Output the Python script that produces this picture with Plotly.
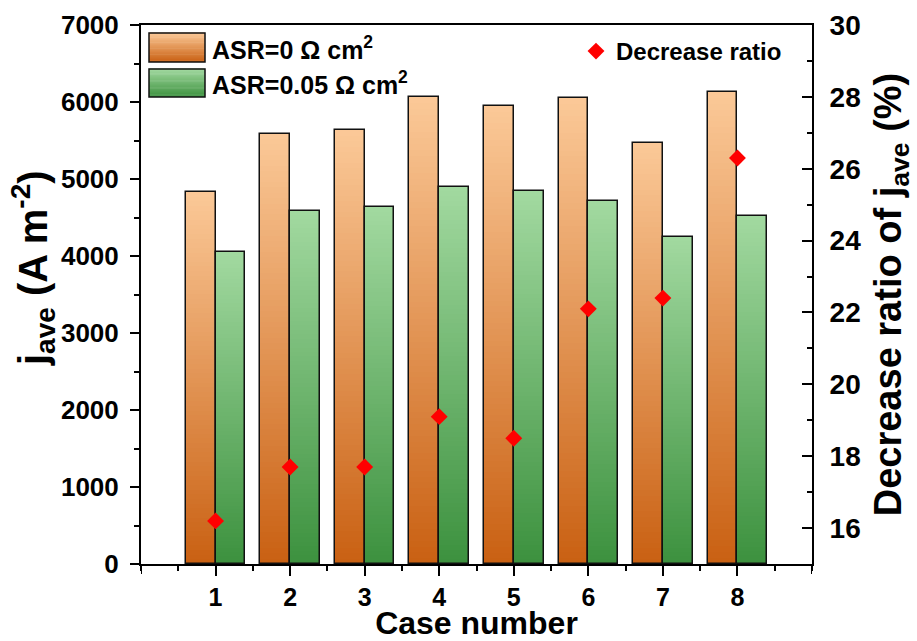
import plotly.graph_objects as go

cases = [1, 2, 3, 4, 5, 6, 7, 8]
asr_0 = [4830, 5590, 5630, 6060, 5950, 6050, 5470, 6130]
asr_005 = [4050, 4590, 4630, 4900, 4840, 4710, 4250, 4520]
decrease_ratio = [16.2, 17.7, 17.7, 19.1, 18.5, 22.1, 22.4, 26.3]
x_ticklabels = ["1", "2", "3", "4", "5", "6", "7", "8"]

ORANGE_BOTTOM = (201, 96, 18)
ORANGE_TOP = (251, 201, 152)
GREEN_BOTTOM = (60, 145, 62)
GREEN_TOP = (162, 217, 160)
N_SEG = 80
FONT = "Liberation Sans, Arial, sans-serif"


def lerp(c0, c1, t):
    return "rgb(%d,%d,%d)" % tuple(round(a + (b - a) * t) for a, b in zip(c0, c1))


fig = go.Figure()


def gradient_bars(values, c_bot, c_top, offset, name):
    for k in range(N_SEG):
        t = (k + 0.5) / N_SEG
        fig.add_trace(go.Bar(
            x=cases, y=[v / N_SEG for v in values],
            base=[v * k / N_SEG for v in values],
            width=0.4, offset=offset,
            marker=dict(color=lerp(c_bot, c_top, t), line=dict(width=0)),
            showlegend=False, hoverinfo="skip", name=name,
        ))
    fig.add_trace(go.Bar(
        x=cases, y=values, width=0.4, offset=offset, name=name,
        marker=dict(color="rgba(0,0,0,0)", line=dict(color="#111", width=1.5)),
        showlegend=False,
    ))


gradient_bars(asr_0, ORANGE_BOTTOM, ORANGE_TOP, -0.4, "ASR=0 Ω cm²")
gradient_bars(asr_005, GREEN_BOTTOM, GREEN_TOP, 0.0, "ASR=0.05 Ω cm²")

fig.add_trace(go.Scatter(
    x=cases, y=decrease_ratio, yaxis="y2", mode="markers",
    marker=dict(symbol="diamond", size=13, color="#FF0000", line=dict(width=0)),
    name="Decrease ratio", showlegend=True,
))

# plot area in pixels: left 141, right 812, top 25, bottom 564
W, H = 917, 641
L, R, T, B = 141, 105, 25, 77
pw, ph = W - L - R, H - T - B


def px_x(px):
    return (px - L) / pw


def px_y(py):
    return (H - B - py) / ph


shapes = []
annotations = []
legend_bars = [
    ("ASR=0 Ω cm<sup>2</sup>", ORANGE_BOTTOM, ORANGE_TOP, 33, 62),
    ("ASR=0.05 Ω cm<sup>2</sup>", GREEN_BOTTOM, GREEN_TOP, 69, 97),
]
for label, cb, ct, y0, y1 in legend_bars:
    n = 24
    for k in range(n):
        ya = y1 - (y1 - y0) * k / n
        yb = y1 - (y1 - y0) * (k + 1) / n
        shapes.append(dict(type="rect", xref="paper", yref="paper",
                           x0=px_x(149), x1=px_x(205), y0=px_y(ya), y1=px_y(yb) + 0.001,
                           fillcolor=lerp(cb, ct, (k + 0.5) / n), line=dict(width=0), layer="above"))
    shapes.append(dict(type="rect", xref="paper", yref="paper",
                       x0=px_x(149), x1=px_x(205), y0=px_y(y1), y1=px_y(y0),
                       fillcolor="rgba(0,0,0,0)", line=dict(color="#111", width=1.5), layer="above"))
    annotations.append(dict(xref="paper", yref="paper", x=px_x(210), y=px_y((y0 + y1) / 2),
                            xanchor="left", yanchor="middle", showarrow=False, text=label,
                            font=dict(family=FONT, size=25, color="black", weight="bold")))

# left axis title (placed as annotation to match its vertical position)
annotations.append(dict(xref="paper", yref="paper", x=px_x(33), y=px_y(268),
                        xanchor="center", yanchor="middle", showarrow=False, textangle=-90,
                        text="j<sub>ave</sub> (A m<sup>-2</sup>)",
                        font=dict(family=FONT, size=40, color="black", weight="bold")))

# long ticks at both ends of the x axis (corner ticks)
for xv in (0, 9):
    shapes.append(dict(type="line", xref="x", yref="paper", x0=xv, x1=xv,
                       y0=0, y1=-10 / ph, line=dict(color="black", width=2)))

axis_common = dict(showgrid=False, zeroline=False, showline=True, linecolor="black",
                   linewidth=2, tickcolor="black", tickwidth=2)

fig.update_layout(
    width=W, height=H,
    margin=dict(l=L, r=R, t=T, b=B, autoexpand=False),
    paper_bgcolor="white", plot_bgcolor="white",
    barmode="overlay", bargap=0,
    font=dict(family=FONT, color="black"),
    xaxis=dict(range=[0, 9], tickvals=cases, ticktext=x_ticklabels,
               ticks="outside", ticklen=10, mirror=True,
               tickfont=dict(family=FONT, size=25, color="black", weight="bold"),
               minor=dict(dtick=0.5, tick0=0.5, ticks="outside", ticklen=5, tickwidth=2, tickcolor="black"),
               title=dict(text="Case number", standoff=8,
                          font=dict(family=FONT, size=32, color="black", weight="bold")),
               **axis_common),
    yaxis=dict(range=[0, 7000], dtick=1000, tick0=0, ticks="outside", ticklen=9,
               ticklabelstandoff=6,
               tickfont=dict(family=FONT, size=26, color="black", weight="bold"),
               minor=dict(dtick=500, ticks="outside", ticklen=5, tickwidth=2, tickcolor="black"),
               **axis_common),
    yaxis2=dict(overlaying="y", side="right", range=[15, 30], tick0=16, dtick=2,
                ticks="inside", ticklen=10, ticklabelstandoff=10,
                tickfont=dict(family=FONT, size=28, color="black", weight="bold"),
                minor=dict(dtick=1, tick0=15, ticks="inside", ticklen=5, tickwidth=2, tickcolor="black"),
                title=dict(text="Decrease ratio of j<sub>ave</sub> (%)", standoff=14,
                           font=dict(family=FONT, size=38, color="black", weight="bold")),
                **axis_common),
    legend=dict(x=px_x(576), y=px_y(29), xanchor="left", yanchor="top",
                bgcolor="rgba(0,0,0,0)", borderwidth=0,
                font=dict(family=FONT, size=24, color="black", weight="bold")),
    shapes=shapes, annotations=annotations,
)

fig.write_html("out.html")
